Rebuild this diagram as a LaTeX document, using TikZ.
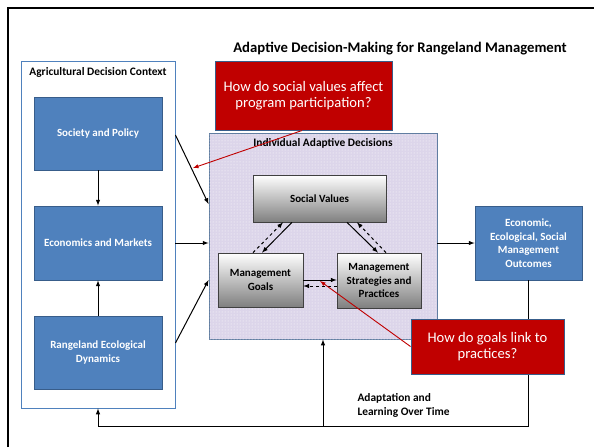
\documentclass[tikz,border=0pt]{standalone}
\usepackage{fontspec}
\setmainfont{Carlito}
\usetikzlibrary{patterns}
\definecolor{boxblue}{HTML}{4F81BD}
\definecolor{edgeblue}{HTML}{385D8A}
\definecolor{qred}{HTML}{C00000}
\definecolor{lav}{HTML}{DCD5EA}

\begin{document}
\begin{tikzpicture}[x=1pt, y=-1pt, -latex, line width=1pt,
      ctxnode/.style={rectangle, draw=edgeblue, fill=boxblue, text=white,
        font=\bfseries\fontsize{11}{13.5}\selectfont, align=center,
        line width=0.8pt, inner sep=0pt},
      decnode/.style={rectangle, draw=black!75, top color=white,
        bottom color=black!50, font=\bfseries\fontsize{11}{13.5}\selectfont,
        align=center, line width=0.7pt, inner sep=0pt},
      qnode/.style={rectangle, draw=edgeblue, fill=qred, text=white,
        font=\fontsize{14.6}{16.5}\selectfont, align=center, line width=1pt,
        inner sep=0pt},
      heading/.style={font=\bfseries\fontsize{11.4}{13}\selectfont, inner sep=0pt},
      qarrow/.style={draw=qred, line width=0.9pt}]
      \useasboundingbox (0,0) rectangle (594,447);
      % frame and title
      \draw[-, line width=2.6pt] (8,447) -- (8,8) -- (594,8);
      \node[heading, font=\bfseries\fontsize{14.7}{17}\selectfont](title) at (400,49)
        {Adaptive Decision-Making for Rangeland Management};
      % agricultural context
      \node[draw=boxblue, line width=0.9pt, fill=white, minimum width=154, minimum height=347](ctx) at (98,234.5) {};
      \node[heading](ctx_t) at (98,72) {Agricultural Decision Context};
      \node[ctxnode, minimum width=128, minimum height=73](soc) at (98,133.5) {Society and Policy};
      \node[ctxnode, minimum width=128, minimum height=74](econ) at (98,243) {Economics and Markets};
      \node[ctxnode, minimum width=128, minimum height=73](range) at (98,352.5) {Rangeland Ecological\\Dynamics};
      \path (soc) edge (econ);
      \path (range) edge (econ);
      % individual decisions
      \node[draw=edgeblue!80, line width=0.9pt, fill=lav, minimum width=228, minimum height=206](indiv) at (323,236) {};
      \fill[pattern=dots, pattern color=white] (indiv.north west) rectangle (indiv.south east);
      \node[heading](indiv_t) at (323,143) {Individual Adaptive Decisions};
      \node[decnode, minimum width=133, minimum height=47](values) at (319.5,198.5) {Social Values};
      \node[decnode, minimum width=85, minimum height=54](goals) at (260.5,280) {Management\\Goals};
      \node[decnode, minimum width=84, minimum height=55](strat) at (379,280.5) {Management\\Strategies and\\Practices};
      \draw ([xshift=-27.5pt]values.south) -- ([xshift=1.5pt]goals.north);
      \draw[dashed] ([xshift=-7.5pt]goals.north) -- ([xshift=-36.5pt]values.south);
      \draw ([xshift=27.5pt]values.south) -- ([xshift=-1pt]strat.north);
      \draw[dashed] ([xshift=7pt]strat.north) -- ([xshift=37.5pt]values.south);
      \draw (goals.east) -- (goals.east -| strat.west);
      \draw[dashed] ([yshift=-5.5pt]strat.west) -- ([yshift=-6pt]goals.east);
      % context to decisions
      \draw ([yshift=99.5pt]ctx.east) -- ([yshift=32pt]indiv.west);
      \draw (econ -| ctx.east) -- (econ -| indiv.west);
      \draw ([yshift=-108.5pt]ctx.east) -- ([yshift=-44pt]indiv.west);
      % outcomes and feedback
      \node[ctxnode, minimum width=107, minimum height=74](outc) at (528.5,243)
        {Economic,\\Ecological, Social\\Management\\Outcomes};
      \draw (outc -| indiv.east) -- (outc.west);
      \coordinate (fb) at (0,426);
      \draw (outc.south) |- (fb -| ctx.south) -- (ctx.south);
      \draw (indiv.south |- fb) -- (indiv.south);
      \node[heading, font=\bfseries\fontsize{11.4}{14}\selectfont, align=left, anchor=west](adapt) at (357,405)
        {Adaptation and\\Learning Over Time};
      % questions
      \node[qnode, minimum width=177, minimum height=69](q_1) at (303.5,95.5)
        {How do social values affect\\program participation?};
      \node[qnode, minimum width=153, minimum height=55](q_2) at (487.5,346.5)
        {How do goals link to\\practices?};
      \coordinate (t_1) at (193,168);
      \coordinate (t_2) at (320,281);
      \draw[qarrow] ([xshift=-1.5pt]q_1.south) -- (t_1);
      \draw[qarrow] (q_2.west) -- (t_2);
\end{tikzpicture}
\end{document}
